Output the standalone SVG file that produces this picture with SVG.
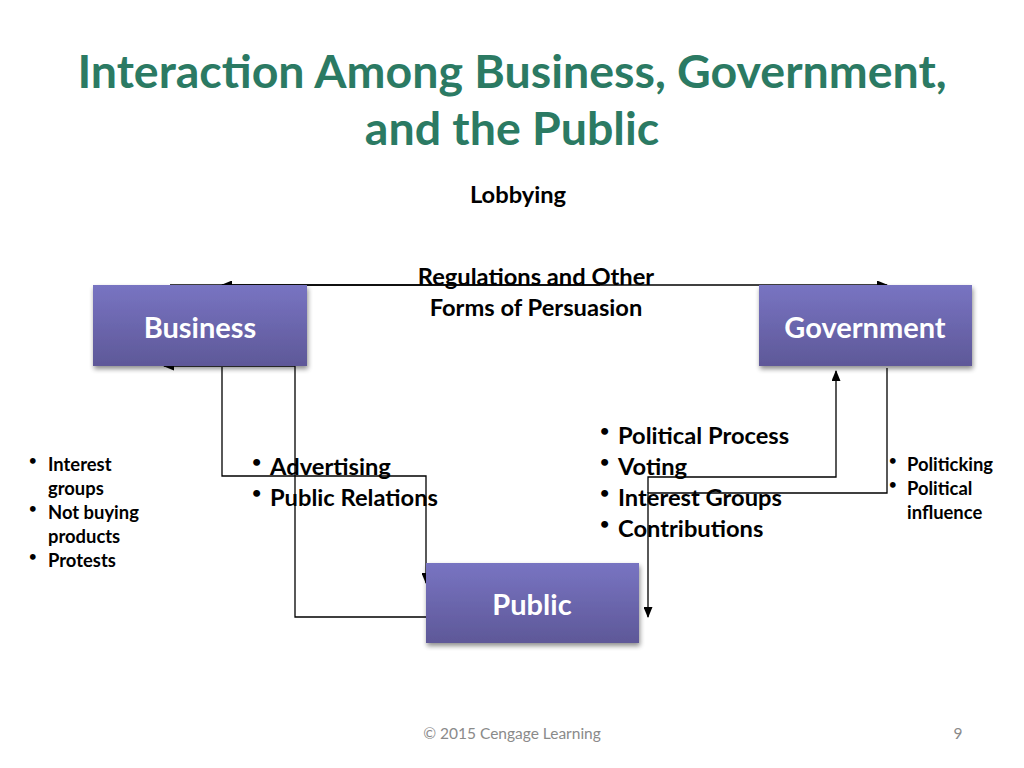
<svg xmlns="http://www.w3.org/2000/svg" width="1024" height="768" viewBox="0 0 1024 768">
<defs>
<linearGradient id="boxg" x1="0" y1="0" x2="0" y2="1">
<stop offset="0" stop-color="#7874C2"/>
<stop offset="1" stop-color="#5E5898"/>
</linearGradient>
<filter id="sh" x="-10%" y="-10%" width="125%" height="135%">
<feGaussianBlur in="SourceAlpha" stdDeviation="2.5"/>
<feOffset dx="1" dy="3" result="b"/>
<feComponentTransfer><feFuncA type="linear" slope="0.45"/></feComponentTransfer>
<feMerge><feMergeNode/><feMergeNode in="SourceGraphic"/></feMerge>
</filter>
<marker id="ah" markerWidth="11" markerHeight="9" refX="10" refY="4.5" orient="auto" markerUnits="userSpaceOnUse">
<path d="M0,0 L11,4.5 L0,9 Z" fill="#000"/>
</marker>
</defs>
<style>
.t{font-family:Lato,"Open Sans","Liberation Sans",sans-serif;font-weight:bold}
.title{fill:#2B7A63;font-size:46.5px}
.lbl{fill:#000;font-size:23.7px}
.box{fill:url(#boxg);filter:url(#sh)}
.bt{fill:#fff;font-size:29px}
.sm{fill:#000;font-size:18.4px}
.bl{font-size:16px}
.bs{font-size:13px}
.c{fill:none;stroke:#000;stroke-width:1.3}
.ca{fill:none;stroke:#000;stroke-width:1.3;marker-end:url(#ah)}
.foot{font-family:Lato,"Open Sans","Liberation Sans",sans-serif;fill:#8a8a8a;font-size:15.5px}
</style>
<rect width="1024" height="768" fill="#fff"/>
<g id="title" class="t title" text-anchor="middle">
<text x="512" y="88">Interaction Among Business, Government,</text>
<text x="512" y="145">and the Public</text>
</g>
<g id="labels" class="t lbl">
<text x="518" y="203" text-anchor="middle">Lobbying</text>
<text x="536" y="285" text-anchor="middle">Regulations and Other</text>
<text x="536" y="316" text-anchor="middle">Forms of Persuasion</text>
</g>
<g id="connectors">
<path class="ca" d="M170,285 H887"/>
<path class="ca" d="M600,285 H222"/>
<path class="ca" d="M426,617 H295 V366 H164"/>
<path class="ca" d="M222,367 V476 H426 V583"/>
<path class="ca" d="M648,493 V477 H836 V371"/>
<path class="ca" d="M887,368 V493 H648 V617"/>
</g>
<g id="business">
<rect class="box" x="93" y="285" width="214" height="81"/>
<text class="t bt" x="200" y="338" text-anchor="middle">Business</text>
</g>
<g id="government">
<rect class="box" x="759" y="285" width="213" height="81"/>
<text class="t bt" x="865" y="338" text-anchor="middle">Government</text>
</g>
<g id="public">
<rect class="box" x="426" y="563" width="213" height="80"/>
<text class="t bt" x="532" y="615" text-anchor="middle">Public</text>
</g>
<g id="bullets-business-public" class="t lbl">
<text class="bl" x="252" y="467">•</text><text x="270" y="475">Advertising</text>
<text class="bl" x="252" y="498">•</text><text x="270" y="506">Public Relations</text>
</g>
<g id="bullets-public-government" class="t lbl">
<text class="bl" x="600" y="436">•</text><text x="618" y="444">Political Process</text>
<text class="bl" x="600" y="467">•</text><text x="618" y="475">Voting</text>
<text class="bl" x="600" y="498">•</text><text x="618" y="506">Interest Groups</text>
<text class="bl" x="600" y="529">•</text><text x="618" y="537">Contributions</text>
</g>
<g id="bullets-left" class="t sm">
<text class="bs" x="29" y="465">•</text><text x="48" y="471">Interest</text>
<text x="48" y="495">groups</text>
<text class="bs" x="29" y="513">•</text><text x="48" y="519">Not buying</text>
<text x="48" y="543">products</text>
<text class="bs" x="29" y="561">•</text><text x="48" y="567">Protests</text>
</g>
<g id="bullets-right" class="t sm">
<text class="bs" x="889" y="465">•</text><text x="907" y="471">Politicking</text>
<text class="bs" x="889" y="489">•</text><text x="907" y="495">Political</text>
<text x="907" y="519">influence</text>
</g>
<g id="footer">
<text class="foot" x="512" y="739" text-anchor="middle">© 2015 Cengage Learning</text>
<text class="foot" x="958" y="739" text-anchor="middle">9</text>
</g>
</svg>
